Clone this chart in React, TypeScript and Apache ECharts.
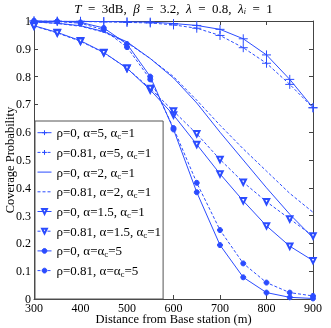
import React, { useEffect, useRef } from "react";
import * as echarts from "echarts";

const BLUE = "#2b4cff";
const AX = "#444";
const FONT = "Liberation Serif";

const distances = [300, 350, 400, 450, 500, 550, 600, 650, 700, 750, 800, 850, 900];

const names = [
  "ρ=0, α=5, αc=1",
  "ρ=0.81, α=5, αc=1",
  "ρ=0, α=2, αc=1",
  "ρ=0.81, α=2, αc=1",
  "ρ=0, α=1.5, αc=1",
  "ρ=0.81, α=1.5, αc=1",
  "ρ=0, α=αc=5",
  "ρ=0.81, α=αc=5",
];

const a5rho0 = [1.0, 0.999, 0.999, 0.998, 0.997, 0.996, 0.991, 0.984, 0.97, 0.936, 0.878, 0.79, 0.688];
const a5rho81 = [1.0, 0.999, 0.998, 0.997, 0.995, 0.993, 0.986, 0.974, 0.948, 0.904, 0.848, 0.772, 0.688];
const a2rho0 = [0.997, 0.992, 0.983, 0.962, 0.925, 0.865, 0.795, 0.705, 0.6, 0.5, 0.4, 0.305, 0.22];
const a2rho81 = [0.997, 0.991, 0.981, 0.96, 0.922, 0.865, 0.8, 0.715, 0.625, 0.54, 0.46, 0.38, 0.312];
const a15rho0 = [0.983, 0.959, 0.929, 0.887, 0.83, 0.752, 0.662, 0.556, 0.45, 0.353, 0.263, 0.19, 0.138];
const a15rho81 = [0.982, 0.957, 0.927, 0.886, 0.83, 0.757, 0.676, 0.594, 0.502, 0.42, 0.35, 0.288, 0.227];
const ac5rho0 = [1.0, 0.999, 0.995, 0.975, 0.917, 0.8, 0.61, 0.384, 0.194, 0.078, 0.023, 0.006, 0.002];
const ac5rho81 = [1.0, 0.998, 0.992, 0.968, 0.906, 0.79, 0.615, 0.418, 0.248, 0.128, 0.059, 0.023, 0.011];

const seriesValues = [a5rho0, a5rho81, a2rho0, a2rho81, a15rho0, a15rho81, ac5rho0, ac5rho81];

const CROSS = "path://M0,5L10,5M5,0L5,10";

export default function App() {
  const ref = useRef<HTMLDivElement>(null);
  useEffect(() => {
    if (!ref.current) return;
    const chart = echarts.init(ref.current, null, { renderer: "svg" });
    const markerDefs = [
      { symbol: CROSS, size: 9, rotate: 0 },
      { symbol: CROSS, size: 9, rotate: 0 },
      { symbol: "none", size: 0, rotate: 0 },
      { symbol: "none", size: 0, rotate: 0 },
      { symbol: "emptyTriangle", size: 5.5, rotate: 180 },
      { symbol: "emptyTriangle", size: 5.5, rotate: 180 },
      { symbol: "circle", size: 5, rotate: 0 },
      { symbol: "circle", size: 5, rotate: 0 },
    ];
    const series = names.map((name, i) => ({
      name,
      type: "line",
      xAxisIndex: 0,
      yAxisIndex: 0,
      data: distances.map((d, j) => [d, seriesValues[i][j]]),
      symbol: markerDefs[i].symbol,
      symbolSize: markerDefs[i].size,
      symbolRotate: markerDefs[i].rotate,
      showSymbol: markerDefs[i].symbol !== "none",
      lineStyle: { color: BLUE, width: 1, type: i % 2 === 1 ? [3, 2] : "solid" },
      itemStyle: { color: BLUE, borderColor: BLUE, borderWidth: 1 },
      emphasis: { disabled: true },
      z: 2,
    }));
    const axisCommon = {
      type: "value",
      splitLine: { show: false },
      axisLine: { onZero: false, lineStyle: { color: AX, width: 1 } },
      axisTick: { inside: true, length: 4, lineStyle: { color: AX } },
      nameMoveOverlap: false,
    };
    chart.setOption({
      animation: false,
      grid: { left: 34, right: 18, top: 21, bottom: 29, outerBoundsMode: "none" },
      xAxis: [
        {
          ...axisCommon,
          min: 300,
          max: 900,
          interval: 100,
          position: "bottom",
          axisLabel: { color: "#000", fontFamily: FONT, fontSize: 12, margin: 3 },
          name: "Distance from Base station (m)",
          nameLocation: "middle",
          nameGap: 13,
          nameTextStyle: { color: "#000", fontFamily: FONT, fontSize: 12.5 },
        },
        {
          ...axisCommon,
          min: 300,
          max: 900,
          interval: 100,
          position: "top",
          axisLabel: { show: false },
        },
      ],
      yAxis: [
        {
          ...axisCommon,
          min: 0,
          max: 1,
          interval: 0.1,
          position: "left",
          axisLabel: { color: "#000", fontFamily: FONT, fontSize: 12, margin: 3 },
          name: "Coverage Probability",
          nameLocation: "middle",
          nameGap: 18,
          nameTextStyle: { color: "#000", fontFamily: FONT, fontSize: 12.5 },
        },
        {
          ...axisCommon,
          min: 0,
          max: 1,
          interval: 0.1,
          position: "right",
          axisLabel: { show: false },
        },
      ],
      legend: {
        orient: "vertical",
        left: 35,
        top: 121,
        padding: [3.7, 2, 20.4, 2],
        itemGap: 3.7,
        itemWidth: 14,
        itemHeight: 6,
        backgroundColor: "#fff",
        borderColor: "#555",
        borderWidth: 1,
        borderRadius: 0,
        selectedMode: false,
        data: names.map((n, i) =>
          i === 2 || i === 3 ? { name: n, itemStyle: { opacity: 0 } } : { name: n }
        ),
        lineStyle: { width: 1 },
        itemStyle: { borderWidth: 1 },
        formatter: (n: string) => n.replace("αc", "α{s|c}"),
        textStyle: {
          color: "#000",
          fontFamily: FONT,
          fontSize: 13,
          lineHeight: 16,
          rich: {
            s: { fontFamily: FONT, fontSize: 9, lineHeight: 8, verticalAlign: "bottom", color: "#000" },
          },
        },
      },
      graphic: [
        {
          type: "text",
          x: 173.5,
          y: 8,
          style: {
            text: "{i|T}  =  3dB,  {i|β}  =  3.2,  {i|λ}  =  0.8,  {i|λ}{s|i}  =  1",
            fontFamily: FONT,
            fontSize: 13,
            fill: "#000",
            align: "center",
            verticalAlign: "middle",
            lineHeight: 14,
            rich: {
              i: { fontFamily: FONT, fontSize: 13, fontStyle: "italic", lineHeight: 14, fill: "#000" },
              s: { fontFamily: FONT, fontSize: 8, fontStyle: "italic", lineHeight: 8, verticalAlign: "bottom", fill: "#000" },
            },
          },
        },
      ],
      series,
    });
    return () => chart.dispose();
  }, []);
  return (
    <div
      ref={ref}
      style={{ position: "fixed", left: 0, top: 0, width: 331, height: 328 }}
    />
  );
}
